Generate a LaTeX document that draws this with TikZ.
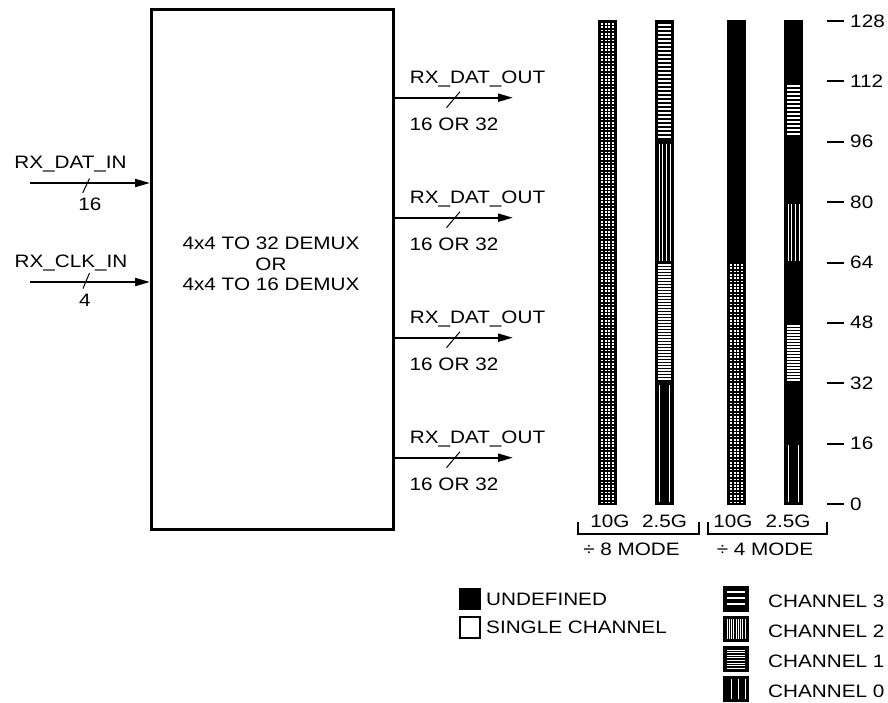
\documentclass[tikz,border=0pt]{standalone}
\usepackage{fontspec}
\setmainfont{Liberation Sans}
\usetikzlibrary{arrows.meta}
\newcommand\hlines[6]{% x1 x2 y1 n step lw
  \foreach \k in {0,...,#4} \draw[white,line width=#6] (#1,{#3+\k*#5}) -- (#2,{#3+\k*#5});}
\newcommand\vlines[4]{% xlist y1 y2 lw
  \foreach \xx in {#1} \draw[white,line width=#4] (\xx,#2) -- (\xx,#3);}
\newcommand\gridpat[3]{% xlist y1 y2
  \foreach \xx in {#1} \draw[white,line width=2pt,dash pattern=on 1.7pt off 1.6pt] (\xx,#2) -- (\xx,#3);}
\begin{document}
\begin{tikzpicture}[x=1pt,y=-1pt,
  lbl/.style={font=\fontsize{18}{20.5}\selectfont, xscale=1.15, inner sep=0pt, anchor=base},
  lblw/.style={lbl, anchor=base west},
  conn/.style={line width=2pt, -{Triangle[length=15pt,width=8pt]}},
  slash/.style={line width=1pt},
  tickln/.style={line width=2pt},
  brk/.style={line width=2pt},
  bar/.style={fill=black, draw=none}]
\useasboundingbox (0,0) rectangle (888,702);

% main box
\node[draw, line width=2.5pt, minimum width=242pt, minimum height=520pt, inner sep=0pt, anchor=north west] (demux) at (150,8) {};
\node[lbl] (t1) at (271,249.5) {4x4 TO 32 DEMUX};
\node[lbl] (t2) at (271,270) {OR};
\node[lbl] (t3) at (271,290.5) {4x4 TO 16 DEMUX};

% inputs
\coordinate (din) at (30,183);
\coordinate (cin) at (30,282);
\draw[conn] (din) -- (din -| demux.west);
\draw[conn] (cin) -- (cin -| demux.west);
\node[lbl] (ldin) at (70.5,168.5) {RX\_DAT\_IN};
\node[lbl] (ndin) at (90,210) {16};
\coordinate (sd1) at (82.7,193);
\coordinate (sd2) at (89.5,178.5);
\draw[slash] (sd1) -- (sd2);
\node[lbl] (lcin) at (71,267) {RX\_CLK\_IN};
\node[lbl] (ncin) at (85,306) {4};
\coordinate (sc1) at (83,288.5);
\coordinate (sc2) at (89.5,273);
\draw[slash] (sc1) -- (sc2);

% outputs
\foreach \i/\yy in {1/97.7,2/217.7,3/337.7,4/457.7}{
  \coordinate (o\i) at (513,\yy);
  \draw[conn] (o\i -| demux.east) -- (o\i);
  \node[lbl] (lo\i) at (477.5,\yy-14.7) {RX\_DAT\_OUT};
  \node[lbl] (no\i) at (454,\yy+32.3) {16 OR 32};
  \coordinate (so\i a) at (446.5,\yy+10);
  \coordinate (so\i b) at (460,\yy-6);
  \draw[slash] (so\i a) -- (so\i b);
}

% bars
\fill[bar] (598,20) rectangle (617,505);
\gridpat{602,605.7,609.3,613}{23}{503}
\fill[bar] (655,20) rectangle (674,505);
\hlines{658}{671}{25}{28}{4}{1.2pt}
\vlines{659,662.7,666.3,670}{143.5}{261}{1pt}
\hlines{658}{671}{265}{38}{3}{1.3pt}
\vlines{659,669}{385}{502}{1pt}
\fill[bar] (727,20) rectangle (746,505);
\gridpat{731,734.7,738.3,742}{264}{503}
\fill[bar] (784,20) rectangle (803,505);
\hlines{787}{800}{86}{12}{4}{1.2pt}
\vlines{788,791.7,795.3,799}{204}{261}{1pt}
\hlines{787}{800}{326}{18}{3}{1.3pt}
\vlines{788,798}{445}{502}{1pt}

% axis ticks
\foreach \v/\yy in {128/21,112/81.4,96/141.8,80/202.1,64/262.5,48/322.9,32/383.3,16/443.6,0/504}{
  \coordinate (tk\v) at (827,\yy);
  \draw[tickln] (tk\v) -- ++(17,0);
  \node[lblw] (tl\v) at (850,\yy+6) {\v};
}

% brackets
\node[lbl] (b1) at (610,527) {10G};
\node[lbl] (b2) at (664.5,527) {2.5G};
\node[lbl] (b3) at (733,527) {10G};
\node[lbl] (b4) at (788,527) {2.5G};
\draw[brk] (578,522) -- (578,534) -- (699,534) -- (699,522);
\draw[brk] (708,522) -- (708,534) -- (827,534) -- (827,522);
\node[lbl] (m8) at (631.5,555) {÷ 8 MODE};
\node[lbl] (m4) at (765,555) {÷ 4 MODE};

% left legend
\fill[black] (459,588) rectangle (481,610);
\draw[line width=2pt] (460,617) rectangle (480,638);
\node[lblw] (lu) at (486,605) {UNDEFINED};
\node[lblw] (ls) at (486,633) {SINGLE CHANNEL};

% right legend
\fill[black] (723,586) rectangle (749,612);
\foreach \yy in {592,598,604} \draw[white,line width=1.2pt] (727,\yy) -- (745,\yy);
\fill[black] (723,616) rectangle (749,642);
\foreach \k in {0,...,8} \draw[white,line width=0.9pt] ({727+\k*2.25},619) -- ({727+\k*2.25},639);
\fill[black] (723,646) rectangle (749,672);
\foreach \k in {0,...,7} \draw[white,line width=1pt] (727,{650+\k*2.6}) -- (745,{650+\k*2.6});
\fill[black] (723,676) rectangle (749,702);
\foreach \xx in {731,738,745} \draw[white,line width=1pt] (\xx,679) -- (\xx,699);
\node[lblw] (c3) at (768,607) {CHANNEL 3};
\node[lblw] (c2) at (768,637) {CHANNEL 2};
\node[lblw] (c1) at (768,667) {CHANNEL 1};
\node[lblw] (c0) at (768,697) {CHANNEL 0};
\end{tikzpicture}
\end{document}
